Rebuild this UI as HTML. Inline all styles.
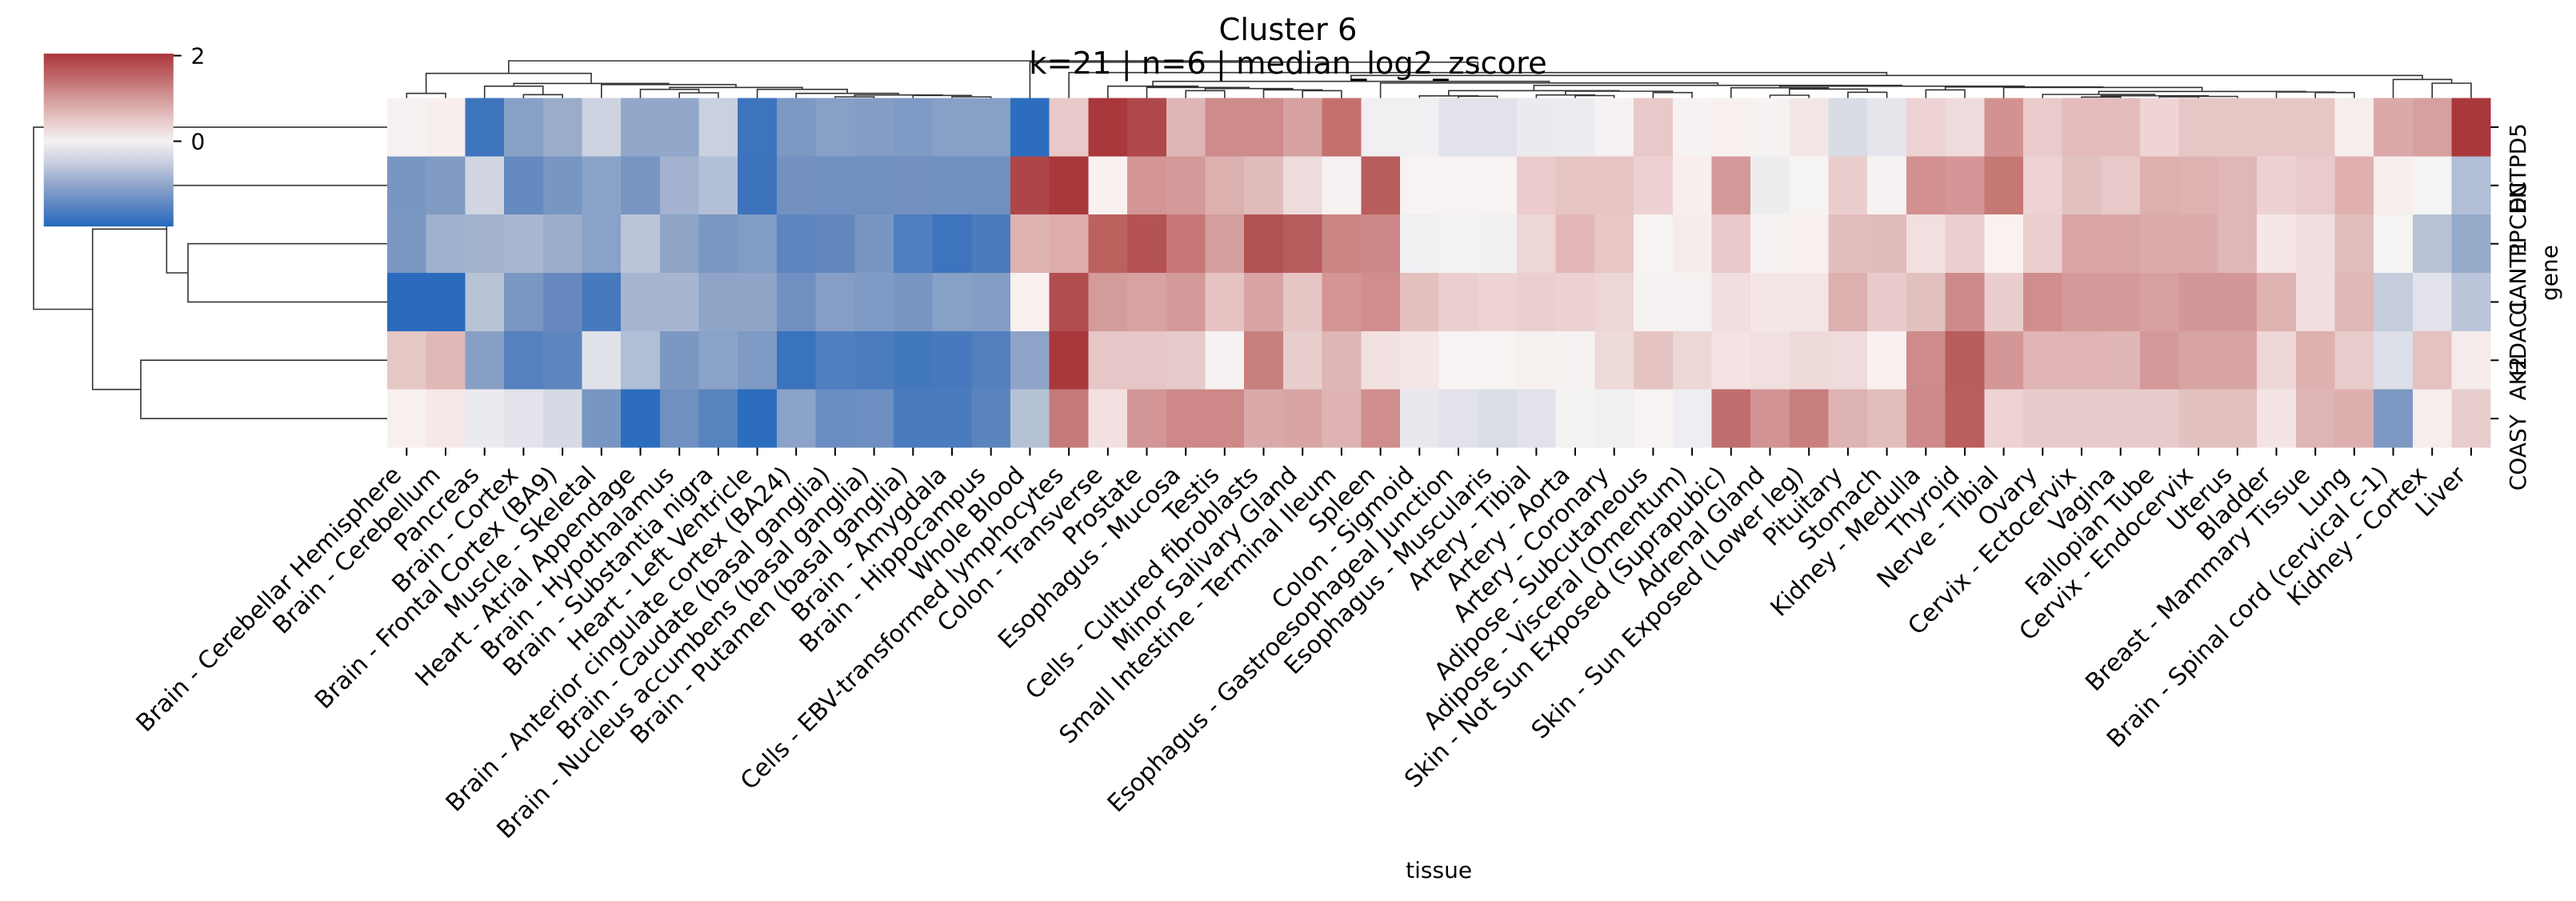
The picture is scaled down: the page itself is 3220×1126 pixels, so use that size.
<!DOCTYPE html>
<html><head><meta charset="utf-8"><style>
html,body{margin:0;padding:0;background:#fff;width:3220px;height:1126px;overflow:hidden}
svg{display:block}
text{font-family:"DejaVu Sans","Liberation Sans",sans-serif;fill:#000}
.xl{font-size:30px}
.yl{font-size:28px}
</style></head><body>
<svg width="3220" height="1126" viewBox="0 0 3220 1126" xmlns="http://www.w3.org/2000/svg">
<defs>
<linearGradient id="cb" x1="0" y1="0" x2="0" y2="1">
<stop offset="0" stop-color="#A9373B"/>
<stop offset="0.13" stop-color="#BF6668"/>
<stop offset="0.26" stop-color="#D49A9A"/>
<stop offset="0.39" stop-color="#E8C9C9"/>
<stop offset="0.507" stop-color="#F4F1F1"/>
<stop offset="0.63" stop-color="#C9CFE0"/>
<stop offset="0.76" stop-color="#8FA6CA"/>
<stop offset="0.88" stop-color="#5B85C3"/>
<stop offset="1" stop-color="#2369BD"/>
</linearGradient>
</defs>
<rect width="3220" height="1126" fill="#fff"/>

<!-- heatmap -->
<g shape-rendering="crispEdges">
<g transform="translate(0,122.5)">
<rect x="484.0" width="49.2" height="73.3" fill="#F7F2F2"/><rect x="532.7" width="49.2" height="73.3" fill="#F8EEEE"/><rect x="581.4" width="49.2" height="73.3" fill="#3E74BD"/><rect x="630.1" width="49.2" height="73.3" fill="#87A0C6"/><rect x="678.8" width="49.2" height="73.3" fill="#9AACCA"/><rect x="727.5" width="49.2" height="73.3" fill="#CCD2DF"/><rect x="776.1" width="49.2" height="73.3" fill="#92A7C9"/><rect x="824.8" width="49.2" height="73.3" fill="#92A7C9"/><rect x="873.5" width="49.2" height="73.3" fill="#C9D0DE"/><rect x="922.2" width="49.2" height="73.3" fill="#3E74BD"/><rect x="970.9" width="49.2" height="73.3" fill="#7C99C4"/><rect x="1019.6" width="49.2" height="73.3" fill="#86A0C6"/><rect x="1068.3" width="49.2" height="73.3" fill="#839DC5"/><rect x="1117.0" width="49.2" height="73.3" fill="#7F9AC4"/><rect x="1165.7" width="49.2" height="73.3" fill="#87A0C6"/><rect x="1214.4" width="49.2" height="73.3" fill="#87A0C6"/><rect x="1263.0" width="49.2" height="73.3" fill="#2C6DBD"/><rect x="1311.7" width="49.2" height="73.3" fill="#E8C8C8"/><rect x="1360.4" width="49.2" height="73.3" fill="#A9373B"/><rect x="1409.1" width="49.2" height="73.3" fill="#AF484A"/><rect x="1457.8" width="49.2" height="73.3" fill="#DEB6B6"/><rect x="1506.5" width="49.2" height="73.3" fill="#CD8B8B"/><rect x="1555.2" width="49.2" height="73.3" fill="#CF8A8A"/><rect x="1603.9" width="49.2" height="73.3" fill="#D6A1A1"/><rect x="1652.6" width="49.2" height="73.3" fill="#C4706F"/><rect x="1701.3" width="49.2" height="73.3" fill="#F1EFF2"/><rect x="1749.9" width="49.2" height="73.3" fill="#F1EFF2"/><rect x="1798.6" width="49.2" height="73.3" fill="#E2E2EA"/><rect x="1847.3" width="49.2" height="73.3" fill="#E2E2EA"/><rect x="1896.0" width="49.2" height="73.3" fill="#EBEAEF"/><rect x="1944.7" width="49.2" height="73.3" fill="#ECEBEF"/><rect x="1993.4" width="49.2" height="73.3" fill="#F5F2F1"/><rect x="2042.1" width="49.2" height="73.3" fill="#E8C8C8"/><rect x="2090.8" width="49.2" height="73.3" fill="#F6F2F1"/><rect x="2139.5" width="49.2" height="73.3" fill="#F8F0EF"/><rect x="2188.2" width="49.2" height="73.3" fill="#F6F2F1"/><rect x="2236.8" width="49.2" height="73.3" fill="#F4E6E6"/><rect x="2285.5" width="49.2" height="73.3" fill="#D9DCE5"/><rect x="2334.2" width="49.2" height="73.3" fill="#E6E5EC"/><rect x="2382.9" width="49.2" height="73.3" fill="#EDD3D3"/><rect x="2431.6" width="49.2" height="73.3" fill="#EFDBDB"/><rect x="2480.3" width="49.2" height="73.3" fill="#D39292"/><rect x="2529.0" width="49.2" height="73.3" fill="#E9CBCB"/><rect x="2577.7" width="49.2" height="73.3" fill="#E4BCBC"/><rect x="2626.4" width="49.2" height="73.3" fill="#E4BCBC"/><rect x="2675.1" width="49.2" height="73.3" fill="#EED4D5"/><rect x="2723.7" width="49.2" height="73.3" fill="#E7C6C6"/><rect x="2772.4" width="49.2" height="73.3" fill="#E7C6C6"/><rect x="2821.1" width="49.2" height="73.3" fill="#E7C6C6"/><rect x="2869.8" width="49.2" height="73.3" fill="#E7C6C6"/><rect x="2918.5" width="49.2" height="73.3" fill="#F6EEED"/><rect x="2967.2" width="49.2" height="73.3" fill="#DBA9A9"/><rect x="3015.9" width="49.2" height="73.3" fill="#D6A09F"/><rect x="3064.6" width="48.7" height="73.3" fill="#A9383C"/>
</g>
<g transform="translate(0,195.3)">
<rect x="484.0" width="49.2" height="73.3" fill="#7896C2"/><rect x="532.7" width="49.2" height="73.3" fill="#819BC4"/><rect x="581.4" width="49.2" height="73.3" fill="#D0D5E1"/><rect x="630.1" width="49.2" height="73.3" fill="#648ABF"/><rect x="678.8" width="49.2" height="73.3" fill="#7896C2"/><rect x="727.5" width="49.2" height="73.3" fill="#8AA3C8"/><rect x="776.1" width="49.2" height="73.3" fill="#7896C2"/><rect x="824.8" width="49.2" height="73.3" fill="#A2B2CF"/><rect x="873.5" width="49.2" height="73.3" fill="#B2BFD6"/><rect x="922.2" width="49.2" height="73.3" fill="#3D73BD"/><rect x="970.9" width="49.2" height="73.3" fill="#7291C0"/><rect x="1019.6" width="49.2" height="73.3" fill="#6F90C0"/><rect x="1068.3" width="49.2" height="73.3" fill="#6F90C0"/><rect x="1117.0" width="49.2" height="73.3" fill="#7291C0"/><rect x="1165.7" width="49.2" height="73.3" fill="#6F90C0"/><rect x="1214.4" width="49.2" height="73.3" fill="#6F90C0"/><rect x="1263.0" width="49.2" height="73.3" fill="#AE4548"/><rect x="1311.7" width="49.2" height="73.3" fill="#A9383C"/><rect x="1360.4" width="49.2" height="73.3" fill="#F8F1F0"/><rect x="1409.1" width="49.2" height="73.3" fill="#D39695"/><rect x="1457.8" width="49.2" height="73.3" fill="#D49999"/><rect x="1506.5" width="49.2" height="73.3" fill="#DDB0B0"/><rect x="1555.2" width="49.2" height="73.3" fill="#E2BCBC"/><rect x="1603.9" width="49.2" height="73.3" fill="#EEDBDB"/><rect x="1652.6" width="49.2" height="73.3" fill="#F6F2F1"/><rect x="1701.3" width="49.2" height="73.3" fill="#B85C5C"/><rect x="1749.9" width="49.2" height="73.3" fill="#F6F3F2"/><rect x="1798.6" width="49.2" height="73.3" fill="#F6F3F2"/><rect x="1847.3" width="49.2" height="73.3" fill="#F6F3F2"/><rect x="1896.0" width="49.2" height="73.3" fill="#EBCBCB"/><rect x="1944.7" width="49.2" height="73.3" fill="#E7C4C4"/><rect x="1993.4" width="49.2" height="73.3" fill="#E7C4C4"/><rect x="2042.1" width="49.2" height="73.3" fill="#EED2D3"/><rect x="2090.8" width="49.2" height="73.3" fill="#F8EEED"/><rect x="2139.5" width="49.2" height="73.3" fill="#D49999"/><rect x="2188.2" width="49.2" height="73.3" fill="#EDEDF0"/><rect x="2236.8" width="49.2" height="73.3" fill="#F5F4F2"/><rect x="2285.5" width="49.2" height="73.3" fill="#EACECD"/><rect x="2334.2" width="49.2" height="73.3" fill="#F6F2F2"/><rect x="2382.9" width="49.2" height="73.3" fill="#D29090"/><rect x="2431.6" width="49.2" height="73.3" fill="#D49696"/><rect x="2480.3" width="49.2" height="73.3" fill="#C67875"/><rect x="2529.0" width="49.2" height="73.3" fill="#EDD3D3"/><rect x="2577.7" width="49.2" height="73.3" fill="#E4C1C1"/><rect x="2626.4" width="49.2" height="73.3" fill="#E7C9C9"/><rect x="2675.1" width="49.2" height="73.3" fill="#DDAFAF"/><rect x="2723.7" width="49.2" height="73.3" fill="#DFB2B2"/><rect x="2772.4" width="49.2" height="73.3" fill="#E0B7B7"/><rect x="2821.1" width="49.2" height="73.3" fill="#EDD2D2"/><rect x="2869.8" width="49.2" height="73.3" fill="#E9CBCB"/><rect x="2918.5" width="49.2" height="73.3" fill="#DFB0AF"/><rect x="2967.2" width="49.2" height="73.3" fill="#F8EEED"/><rect x="3015.9" width="49.2" height="73.3" fill="#F4F4F2"/><rect x="3064.6" width="48.7" height="73.3" fill="#B1BED6"/>
</g>
<g transform="translate(0,268.2)">
<rect x="484.0" width="49.2" height="73.3" fill="#7A97C2"/><rect x="532.7" width="49.2" height="73.3" fill="#A0B1CE"/><rect x="581.4" width="49.2" height="73.3" fill="#A3B2CD"/><rect x="630.1" width="49.2" height="73.3" fill="#AAB7D0"/><rect x="678.8" width="49.2" height="73.3" fill="#9CADCB"/><rect x="727.5" width="49.2" height="73.3" fill="#8AA2C7"/><rect x="776.1" width="49.2" height="73.3" fill="#BBC4D9"/><rect x="824.8" width="49.2" height="73.3" fill="#8EA5C8"/><rect x="873.5" width="49.2" height="73.3" fill="#7A97C2"/><rect x="922.2" width="49.2" height="73.3" fill="#819CC5"/><rect x="970.9" width="49.2" height="73.3" fill="#5E86BE"/><rect x="1019.6" width="49.2" height="73.3" fill="#6388BF"/><rect x="1068.3" width="49.2" height="73.3" fill="#7896C2"/><rect x="1117.0" width="49.2" height="73.3" fill="#4F7FBE"/><rect x="1165.7" width="49.2" height="73.3" fill="#3D74BD"/><rect x="1214.4" width="49.2" height="73.3" fill="#4A7CBD"/><rect x="1263.0" width="49.2" height="73.3" fill="#DEB2B1"/><rect x="1311.7" width="49.2" height="73.3" fill="#DDACAB"/><rect x="1360.4" width="49.2" height="73.3" fill="#BB615E"/><rect x="1409.1" width="49.2" height="73.3" fill="#B55253"/><rect x="1457.8" width="49.2" height="73.3" fill="#C67775"/><rect x="1506.5" width="49.2" height="73.3" fill="#D39F9E"/><rect x="1555.2" width="49.2" height="73.3" fill="#B35253"/><rect x="1603.9" width="49.2" height="73.3" fill="#B75C5C"/><rect x="1652.6" width="49.2" height="73.3" fill="#CB8583"/><rect x="1701.3" width="49.2" height="73.3" fill="#CC8887"/><rect x="1749.9" width="49.2" height="73.3" fill="#F0EFF2"/><rect x="1798.6" width="49.2" height="73.3" fill="#F5F3F2"/><rect x="1847.3" width="49.2" height="73.3" fill="#F2F0F3"/><rect x="1896.0" width="49.2" height="73.3" fill="#EDD6D6"/><rect x="1944.7" width="49.2" height="73.3" fill="#E3B7B7"/><rect x="1993.4" width="49.2" height="73.3" fill="#E8C6C6"/><rect x="2042.1" width="49.2" height="73.3" fill="#F6F3F2"/><rect x="2090.8" width="49.2" height="73.3" fill="#F6ECEB"/><rect x="2139.5" width="49.2" height="73.3" fill="#E8C8C8"/><rect x="2188.2" width="49.2" height="73.3" fill="#F6F2F1"/><rect x="2236.8" width="49.2" height="73.3" fill="#F8F0EF"/><rect x="2285.5" width="49.2" height="73.3" fill="#E3BDBD"/><rect x="2334.2" width="49.2" height="73.3" fill="#E2BCBC"/><rect x="2382.9" width="49.2" height="73.3" fill="#F2DFDF"/><rect x="2431.6" width="49.2" height="73.3" fill="#EBCECE"/><rect x="2480.3" width="49.2" height="73.3" fill="#FAF2F1"/><rect x="2529.0" width="49.2" height="73.3" fill="#EBCECE"/><rect x="2577.7" width="49.2" height="73.3" fill="#DAA5A5"/><rect x="2626.4" width="49.2" height="73.3" fill="#DAA5A5"/><rect x="2675.1" width="49.2" height="73.3" fill="#DCACAC"/><rect x="2723.7" width="49.2" height="73.3" fill="#DCACAC"/><rect x="2772.4" width="49.2" height="73.3" fill="#E0B7B7"/><rect x="2821.1" width="49.2" height="73.3" fill="#F5E7E7"/><rect x="2869.8" width="49.2" height="73.3" fill="#F1DEDE"/><rect x="2918.5" width="49.2" height="73.3" fill="#E3BCBC"/><rect x="2967.2" width="49.2" height="73.3" fill="#F4F4F2"/><rect x="3015.9" width="49.2" height="73.3" fill="#BAC3D6"/><rect x="3064.6" width="48.7" height="73.3" fill="#96ABC9"/>
</g>
<g transform="translate(0,341.0)">
<rect x="484.0" width="49.2" height="73.3" fill="#2A6BBD"/><rect x="532.7" width="49.2" height="73.3" fill="#2A6BBD"/><rect x="581.4" width="49.2" height="73.3" fill="#B8C3D6"/><rect x="630.1" width="49.2" height="73.3" fill="#7A97C2"/><rect x="678.8" width="49.2" height="73.3" fill="#6889BF"/><rect x="727.5" width="49.2" height="73.3" fill="#4679BD"/><rect x="776.1" width="49.2" height="73.3" fill="#A7B5D0"/><rect x="824.8" width="49.2" height="73.3" fill="#A7B5D0"/><rect x="873.5" width="49.2" height="73.3" fill="#8FA5C7"/><rect x="922.2" width="49.2" height="73.3" fill="#8FA5C7"/><rect x="970.9" width="49.2" height="73.3" fill="#6F90C0"/><rect x="1019.6" width="49.2" height="73.3" fill="#869EC5"/><rect x="1068.3" width="49.2" height="73.3" fill="#7F9AC4"/><rect x="1117.0" width="49.2" height="73.3" fill="#7896C2"/><rect x="1165.7" width="49.2" height="73.3" fill="#87A0C6"/><rect x="1214.4" width="49.2" height="73.3" fill="#839DC5"/><rect x="1263.0" width="49.2" height="73.3" fill="#F9F1F0"/><rect x="1311.7" width="49.2" height="73.3" fill="#B04D4F"/><rect x="1360.4" width="49.2" height="73.3" fill="#D49B9B"/><rect x="1409.1" width="49.2" height="73.3" fill="#D6A2A2"/><rect x="1457.8" width="49.2" height="73.3" fill="#D49999"/><rect x="1506.5" width="49.2" height="73.3" fill="#E5C3C3"/><rect x="1555.2" width="49.2" height="73.3" fill="#D8A4A4"/><rect x="1603.9" width="49.2" height="73.3" fill="#E6C6C5"/><rect x="1652.6" width="49.2" height="73.3" fill="#D49594"/><rect x="1701.3" width="49.2" height="73.3" fill="#D18D8D"/><rect x="1749.9" width="49.2" height="73.3" fill="#E4C0BF"/><rect x="1798.6" width="49.2" height="73.3" fill="#EBCFCF"/><rect x="1847.3" width="49.2" height="73.3" fill="#EDD3D3"/><rect x="1896.0" width="49.2" height="73.3" fill="#EBCFCF"/><rect x="1944.7" width="49.2" height="73.3" fill="#ECD2D2"/><rect x="1993.4" width="49.2" height="73.3" fill="#EDD6D6"/><rect x="2042.1" width="49.2" height="73.3" fill="#F5F2F1"/><rect x="2090.8" width="49.2" height="73.3" fill="#F5F1F0"/><rect x="2139.5" width="49.2" height="73.3" fill="#F1DEDE"/><rect x="2188.2" width="49.2" height="73.3" fill="#F4E6E6"/><rect x="2236.8" width="49.2" height="73.3" fill="#F4E6E6"/><rect x="2285.5" width="49.2" height="73.3" fill="#DDB0B0"/><rect x="2334.2" width="49.2" height="73.3" fill="#E8CACA"/><rect x="2382.9" width="49.2" height="73.3" fill="#E3C0C0"/><rect x="2431.6" width="49.2" height="73.3" fill="#CE8A8A"/><rect x="2480.3" width="49.2" height="73.3" fill="#EACECE"/><rect x="2529.0" width="49.2" height="73.3" fill="#D08D8D"/><rect x="2577.7" width="49.2" height="73.3" fill="#D49999"/><rect x="2626.4" width="49.2" height="73.3" fill="#D49999"/><rect x="2675.1" width="49.2" height="73.3" fill="#D7A1A1"/><rect x="2723.7" width="49.2" height="73.3" fill="#D49797"/><rect x="2772.4" width="49.2" height="73.3" fill="#D49797"/><rect x="2821.1" width="49.2" height="73.3" fill="#DFB2B2"/><rect x="2869.8" width="49.2" height="73.3" fill="#F1DEDE"/><rect x="2918.5" width="49.2" height="73.3" fill="#E0B7B7"/><rect x="2967.2" width="49.2" height="73.3" fill="#C6CDDC"/><rect x="3015.9" width="49.2" height="73.3" fill="#E2E2EA"/><rect x="3064.6" width="48.7" height="73.3" fill="#BBC5D9"/>
</g>
<g transform="translate(0,413.8)">
<rect x="484.0" width="49.2" height="73.3" fill="#E5C7C6"/><rect x="532.7" width="49.2" height="73.3" fill="#E0B8B7"/><rect x="581.4" width="49.2" height="73.3" fill="#889FC5"/><rect x="630.1" width="49.2" height="73.3" fill="#5582BE"/><rect x="678.8" width="49.2" height="73.3" fill="#5E85BE"/><rect x="727.5" width="49.2" height="73.3" fill="#E0E2EA"/><rect x="776.1" width="49.2" height="73.3" fill="#B0BED6"/><rect x="824.8" width="49.2" height="73.3" fill="#7B98C3"/><rect x="873.5" width="49.2" height="73.3" fill="#8BA3C8"/><rect x="922.2" width="49.2" height="73.3" fill="#7F9AC4"/><rect x="970.9" width="49.2" height="73.3" fill="#3972BD"/><rect x="1019.6" width="49.2" height="73.3" fill="#4F7FBE"/><rect x="1068.3" width="49.2" height="73.3" fill="#4A7CBE"/><rect x="1117.0" width="49.2" height="73.3" fill="#4279BD"/><rect x="1165.7" width="49.2" height="73.3" fill="#4679BD"/><rect x="1214.4" width="49.2" height="73.3" fill="#5280BE"/><rect x="1263.0" width="49.2" height="73.3" fill="#8EA3C8"/><rect x="1311.7" width="49.2" height="73.3" fill="#A9383C"/><rect x="1360.4" width="49.2" height="73.3" fill="#E6C6C6"/><rect x="1409.1" width="49.2" height="73.3" fill="#E6C6C6"/><rect x="1457.8" width="49.2" height="73.3" fill="#E7CACA"/><rect x="1506.5" width="49.2" height="73.3" fill="#F6F2F1"/><rect x="1555.2" width="49.2" height="73.3" fill="#C87F7E"/><rect x="1603.9" width="49.2" height="73.3" fill="#E8CDCD"/><rect x="1652.6" width="49.2" height="73.3" fill="#DFB5B5"/><rect x="1701.3" width="49.2" height="73.3" fill="#F1E0E0"/><rect x="1749.9" width="49.2" height="73.3" fill="#F4E6E6"/><rect x="1798.6" width="49.2" height="73.3" fill="#F6F3F2"/><rect x="1847.3" width="49.2" height="73.3" fill="#F6F3F2"/><rect x="1896.0" width="49.2" height="73.3" fill="#F6F0EF"/><rect x="1944.7" width="49.2" height="73.3" fill="#F6F2F1"/><rect x="1993.4" width="49.2" height="73.3" fill="#EFDADA"/><rect x="2042.1" width="49.2" height="73.3" fill="#E5C3C3"/><rect x="2090.8" width="49.2" height="73.3" fill="#EDD6D6"/><rect x="2139.5" width="49.2" height="73.3" fill="#F3E3E3"/><rect x="2188.2" width="49.2" height="73.3" fill="#F1E0E0"/><rect x="2236.8" width="49.2" height="73.3" fill="#EFDADA"/><rect x="2285.5" width="49.2" height="73.3" fill="#EFDBDB"/><rect x="2334.2" width="49.2" height="73.3" fill="#F9F1F0"/><rect x="2382.9" width="49.2" height="73.3" fill="#CE8B8B"/><rect x="2431.6" width="49.2" height="73.3" fill="#B85C5C"/><rect x="2480.3" width="49.2" height="73.3" fill="#D49797"/><rect x="2529.0" width="49.2" height="73.3" fill="#E0B4B4"/><rect x="2577.7" width="49.2" height="73.3" fill="#E0B4B4"/><rect x="2626.4" width="49.2" height="73.3" fill="#DFB5B5"/><rect x="2675.1" width="49.2" height="73.3" fill="#D49999"/><rect x="2723.7" width="49.2" height="73.3" fill="#D7A3A3"/><rect x="2772.4" width="49.2" height="73.3" fill="#D7A3A3"/><rect x="2821.1" width="49.2" height="73.3" fill="#EDD6D6"/><rect x="2869.8" width="49.2" height="73.3" fill="#DEB0B0"/><rect x="2918.5" width="49.2" height="73.3" fill="#E8CCCC"/><rect x="2967.2" width="49.2" height="73.3" fill="#DDE0E8"/><rect x="3015.9" width="49.2" height="73.3" fill="#E5C1C1"/><rect x="3064.6" width="48.7" height="73.3" fill="#F5EBEB"/>
</g>
<g transform="translate(0,486.7)">
<rect x="484.0" width="49.2" height="72.8" fill="#F8F0EF"/><rect x="532.7" width="49.2" height="72.8" fill="#F6E8E7"/><rect x="581.4" width="49.2" height="72.8" fill="#EBEAEF"/><rect x="630.1" width="49.2" height="72.8" fill="#E2E3EB"/><rect x="678.8" width="49.2" height="72.8" fill="#D6DAE4"/><rect x="727.5" width="49.2" height="72.8" fill="#7896C2"/><rect x="776.1" width="49.2" height="72.8" fill="#2C6DBD"/><rect x="824.8" width="49.2" height="72.8" fill="#6F90C0"/><rect x="873.5" width="49.2" height="72.8" fill="#5783BE"/><rect x="922.2" width="49.2" height="72.8" fill="#2C6DBD"/><rect x="970.9" width="49.2" height="72.8" fill="#8BA3C8"/><rect x="1019.6" width="49.2" height="72.8" fill="#6A8DC1"/><rect x="1068.3" width="49.2" height="72.8" fill="#6C8EC1"/><rect x="1117.0" width="49.2" height="72.8" fill="#4A7CBD"/><rect x="1165.7" width="49.2" height="72.8" fill="#4A7CBD"/><rect x="1214.4" width="49.2" height="72.8" fill="#5B84BE"/><rect x="1263.0" width="49.2" height="72.8" fill="#B5C2D6"/><rect x="1311.7" width="49.2" height="72.8" fill="#C77A7A"/><rect x="1360.4" width="49.2" height="72.8" fill="#F3E1E1"/><rect x="1409.1" width="49.2" height="72.8" fill="#D39696"/><rect x="1457.8" width="49.2" height="72.8" fill="#CD8887"/><rect x="1506.5" width="49.2" height="72.8" fill="#CD8887"/><rect x="1555.2" width="49.2" height="72.8" fill="#DAAAAA"/><rect x="1603.9" width="49.2" height="72.8" fill="#D9A4A4"/><rect x="1652.6" width="49.2" height="72.8" fill="#DFB3B3"/><rect x="1701.3" width="49.2" height="72.8" fill="#D08D8D"/><rect x="1749.9" width="49.2" height="72.8" fill="#E8E8EE"/><rect x="1798.6" width="49.2" height="72.8" fill="#E2E2EA"/><rect x="1847.3" width="49.2" height="72.8" fill="#DADDE6"/><rect x="1896.0" width="49.2" height="72.8" fill="#E2E2EA"/><rect x="1944.7" width="49.2" height="72.8" fill="#F4F2F2"/><rect x="1993.4" width="49.2" height="72.8" fill="#F0EFF2"/><rect x="2042.1" width="49.2" height="72.8" fill="#F6F3F2"/><rect x="2090.8" width="49.2" height="72.8" fill="#EEEDF1"/><rect x="2139.5" width="49.2" height="72.8" fill="#C06E6E"/><rect x="2188.2" width="49.2" height="72.8" fill="#D29393"/><rect x="2236.8" width="49.2" height="72.8" fill="#C87F7E"/><rect x="2285.5" width="49.2" height="72.8" fill="#DEB3B3"/><rect x="2334.2" width="49.2" height="72.8" fill="#E2BDBD"/><rect x="2382.9" width="49.2" height="72.8" fill="#CE8A8A"/><rect x="2431.6" width="49.2" height="72.8" fill="#BA5E5E"/><rect x="2480.3" width="49.2" height="72.8" fill="#EDD3D3"/><rect x="2529.0" width="49.2" height="72.8" fill="#E7CBCB"/><rect x="2577.7" width="49.2" height="72.8" fill="#E7CBCB"/><rect x="2626.4" width="49.2" height="72.8" fill="#E7CBCB"/><rect x="2675.1" width="49.2" height="72.8" fill="#E7CBCB"/><rect x="2723.7" width="49.2" height="72.8" fill="#E3C1C1"/><rect x="2772.4" width="49.2" height="72.8" fill="#E3C1C1"/><rect x="2821.1" width="49.2" height="72.8" fill="#F4E4E4"/><rect x="2869.8" width="49.2" height="72.8" fill="#DFB4B4"/><rect x="2918.5" width="49.2" height="72.8" fill="#DDAEAE"/><rect x="2967.2" width="49.2" height="72.8" fill="#7C98C3"/><rect x="3015.9" width="49.2" height="72.8" fill="#F6EDED"/><rect x="3064.6" width="48.7" height="72.8" fill="#E8CDCD"/>
</g>
</g>

<!-- column dendrogram -->
<path fill="none" stroke="#333" stroke-width="1.6" d="
M508.3 122.5V116.7H557.0V122.5
M654.4 122.5V118.3H703.1V122.5
M605.7 122.5V107.7H678.75V118.3
M849.2 122.5V116H897.9V122.5
M800.5 122.5V111.7H873.55V116
M1190.0 122.5V121H1238.7V122.5
M1141.3 122.5V119.3H1214.35V121
M1043.9 122.5V121H1092.6V122.5
M1068.25 121V118.7H1177.8V119.3
M995.2 122.5V116.7H1123.0V118.7
M946.6 122.5V111.7H1059.1V116.7
M837.0 111.7V109.3H1002.9V111.7
M751.8 122.5V105.7H919.95V109.3
M642.2 107.7V104.3H835.9V105.7
M532.65 116.7V91.7H739.05V104.3
M1628.2 122.5V113.3H1676.9V122.5
M1579.5 122.5V112.3H1652.55V113.3
M1482.2 122.5V113.3H1530.8V122.5
M1506.5 113.3V110.7H1616.0V112.3
M1433.5 122.5V109.3H1561.25V110.7
M1384.8 122.5V107.7H1497.4V109.3
M1823.0 122.5V120.3H1871.7V122.5
M1774.3 122.5V119.8H1847.35V120.3
M1969.0 122.5V119.5H2017.7V122.5
M1920.4 122.5V118.7H1993.35V119.5
M2066.4 122.5V115.7H2115.1V122.5
M1956.9 118.7V114H2090.75V115.7
M1810.8 119.8V113.3H2023.8V114
M2212.5 122.5V119H2261.2V122.5
M2309.9 122.5V115.3H2358.6V122.5
M2236.85 119V111.3H2334.25V115.3
M2163.8 122.5V109.7H2285.55V111.3
M2407.3 122.5V112.3H2456.0V122.5
M2602.0 122.5V121.3H2650.7V122.5
M2699.4 122.5V121H2748.1V122.5
M2723.75 121V120.5H2796.8V122.5
M2626.35 121.3V119.7H2760.3V120.5
M2553.3 122.5V118H2693.3V119.7
M2894.2 122.5V115.7H2942.8V122.5
M2845.5 122.5V115H2918.5V115.7
M2623.3 118V114.3H2882.0V115
M2504.6 122.5V109.3H2752.65V114.3
M2431.65 112.3V108.7H2628.6V109.3
M2224.7 109.7V107.7H2530.1V108.7
M1917.3 113.3V106.7H2377.4V107.7
M1725.6 122.5V103.7H2147.35V106.7
M1441.1 107.7V101.7H1936.5V103.7
M3040.2 122.5V104H3088.9V122.5
M2991.5 122.5V99.3H3064.55V104
M1688.8 101.7V94.3H3028.0V99.3
M1336.1 122.5V90.7H2358.4V94.3
M1287.4 122.5V77.7H1847.25V90.7
M635.85 91.7V76H1567.3V77.7"/>

<!-- row dendrogram -->
<path fill="none" stroke="#333" stroke-width="1.6" d="
M484 304.6H235V377.4H484
M484 231.7H208.3V341H235
M484 450.2H176V523.1H484
M208.3 286.35H115.7V486.65H176
M484 158.9H42V386.5H115.7"/>

<!-- colorbar -->
<rect x="54.7" y="67" width="162.1" height="216" fill="url(#cb)"/>
<path stroke="#000" stroke-width="2" d="M216.8 69.5h10M216.8 176.5h10"/>
<text class="yl" x="238.5" y="79.5">2</text>
<text class="yl" x="238.5" y="186.5">0</text>

<!-- x ticks -->
<path stroke="#000" stroke-width="2" d="M508.3 559.5v10M557.0 559.5v10M605.7 559.5v10M654.4 559.5v10M703.1 559.5v10M751.8 559.5v10M800.5 559.5v10M849.2 559.5v10M897.9 559.5v10M946.6 559.5v10M995.2 559.5v10M1043.9 559.5v10M1092.6 559.5v10M1141.3 559.5v10M1190.0 559.5v10M1238.7 559.5v10M1287.4 559.5v10M1336.1 559.5v10M1384.8 559.5v10M1433.5 559.5v10M1482.2 559.5v10M1530.8 559.5v10M1579.5 559.5v10M1628.2 559.5v10M1676.9 559.5v10M1725.6 559.5v10M1774.3 559.5v10M1823.0 559.5v10M1871.7 559.5v10M1920.4 559.5v10M1969.0 559.5v10M2017.7 559.5v10M2066.4 559.5v10M2115.1 559.5v10M2163.8 559.5v10M2212.5 559.5v10M2261.2 559.5v10M2309.9 559.5v10M2358.6 559.5v10M2407.3 559.5v10M2456.0 559.5v10M2504.6 559.5v10M2553.3 559.5v10M2602.0 559.5v10M2650.7 559.5v10M2699.4 559.5v10M2748.1 559.5v10M2796.8 559.5v10M2845.5 559.5v10M2894.2 559.5v10M2942.8 559.5v10M2991.5 559.5v10M3040.2 559.5v10M3088.9 559.5v10"/>

<!-- x tick labels -->
<g class="xl" text-anchor="end">
<text transform="translate(503.3,595.5) rotate(-45)">Brain - Cerebellar Hemisphere</text>
<text transform="translate(552.0,595.5) rotate(-45)">Brain - Cerebellum</text>
<text transform="translate(600.7,595.5) rotate(-45)">Pancreas</text>
<text transform="translate(649.4,595.5) rotate(-45)">Brain - Cortex</text>
<text transform="translate(698.1,595.5) rotate(-45)">Brain - Frontal Cortex (BA9)</text>
<text transform="translate(746.8,595.5) rotate(-45)">Muscle - Skeletal</text>
<text transform="translate(795.5,595.5) rotate(-45)">Heart - Atrial Appendage</text>
<text transform="translate(844.2,595.5) rotate(-45)">Brain - Hypothalamus</text>
<text transform="translate(892.9,595.5) rotate(-45)">Brain - Substantia nigra</text>
<text transform="translate(941.6,595.5) rotate(-45)">Heart - Left Ventricle</text>
<text transform="translate(990.2,595.5) rotate(-45)">Brain - Anterior cingulate cortex (BA24)</text>
<text transform="translate(1038.9,595.5) rotate(-45)">Brain - Caudate (basal ganglia)</text>
<text transform="translate(1087.6,595.5) rotate(-45)">Brain - Nucleus accumbens (basal ganglia)</text>
<text transform="translate(1136.3,595.5) rotate(-45)">Brain - Putamen (basal ganglia)</text>
<text transform="translate(1185.0,595.5) rotate(-45)">Brain - Amygdala</text>
<text transform="translate(1233.7,595.5) rotate(-45)">Brain - Hippocampus</text>
<text transform="translate(1282.4,595.5) rotate(-45)">Whole Blood</text>
<text transform="translate(1331.1,595.5) rotate(-45)">Cells - EBV-transformed lymphocytes</text>
<text transform="translate(1379.8,595.5) rotate(-45)">Colon - Transverse</text>
<text transform="translate(1428.5,595.5) rotate(-45)">Prostate</text>
<text transform="translate(1477.2,595.5) rotate(-45)">Esophagus - Mucosa</text>
<text transform="translate(1525.8,595.5) rotate(-45)">Testis</text>
<text transform="translate(1574.5,595.5) rotate(-45)">Cells - Cultured fibroblasts</text>
<text transform="translate(1623.2,595.5) rotate(-45)">Minor Salivary Gland</text>
<text transform="translate(1671.9,595.5) rotate(-45)">Small Intestine - Terminal Ileum</text>
<text transform="translate(1720.6,595.5) rotate(-45)">Spleen</text>
<text transform="translate(1769.3,595.5) rotate(-45)">Colon - Sigmoid</text>
<text transform="translate(1818.0,595.5) rotate(-45)">Esophagus - Gastroesophageal Junction</text>
<text transform="translate(1866.7,595.5) rotate(-45)">Esophagus - Muscularis</text>
<text transform="translate(1915.4,595.5) rotate(-45)">Artery - Tibial</text>
<text transform="translate(1964.0,595.5) rotate(-45)">Artery - Aorta</text>
<text transform="translate(2012.7,595.5) rotate(-45)">Artery - Coronary</text>
<text transform="translate(2061.4,595.5) rotate(-45)">Adipose - Subcutaneous</text>
<text transform="translate(2110.1,595.5) rotate(-45)">Adipose - Visceral (Omentum)</text>
<text transform="translate(2158.8,595.5) rotate(-45)">Skin - Not Sun Exposed (Suprapubic)</text>
<text transform="translate(2207.5,595.5) rotate(-45)">Adrenal Gland</text>
<text transform="translate(2256.2,595.5) rotate(-45)">Skin - Sun Exposed (Lower leg)</text>
<text transform="translate(2304.9,595.5) rotate(-45)">Pituitary</text>
<text transform="translate(2353.6,595.5) rotate(-45)">Stomach</text>
<text transform="translate(2402.3,595.5) rotate(-45)">Kidney - Medulla</text>
<text transform="translate(2451.0,595.5) rotate(-45)">Thyroid</text>
<text transform="translate(2499.6,595.5) rotate(-45)">Nerve - Tibial</text>
<text transform="translate(2548.3,595.5) rotate(-45)">Ovary</text>
<text transform="translate(2597.0,595.5) rotate(-45)">Cervix - Ectocervix</text>
<text transform="translate(2645.7,595.5) rotate(-45)">Vagina</text>
<text transform="translate(2694.4,595.5) rotate(-45)">Fallopian Tube</text>
<text transform="translate(2743.1,595.5) rotate(-45)">Cervix - Endocervix</text>
<text transform="translate(2791.8,595.5) rotate(-45)">Uterus</text>
<text transform="translate(2840.5,595.5) rotate(-45)">Bladder</text>
<text transform="translate(2889.2,595.5) rotate(-45)">Breast - Mammary Tissue</text>
<text transform="translate(2937.8,595.5) rotate(-45)">Lung</text>
<text transform="translate(2986.5,595.5) rotate(-45)">Brain - Spinal cord (cervical c-1)</text>
<text transform="translate(3035.2,595.5) rotate(-45)">Kidney - Cortex</text>
<text transform="translate(3083.9,595.5) rotate(-45)">Liver</text>
</g>

<!-- y ticks & gene labels -->
<path stroke="#000" stroke-width="2" d="M3113.3 158.9h10M3113.3 231.7h10M3113.3 304.6h10M3113.3 377.4h10M3113.3 450.2h10M3113.3 523.1h10"/>
<g class="yl" text-anchor="end">
<text transform="translate(3157,154) rotate(-90)">ENTPD5</text>
<text transform="translate(3157,226.7) rotate(-90)">PPCDC</text>
<text transform="translate(3157,299.6) rotate(-90)">CANT1</text>
<text transform="translate(3157,372.4) rotate(-90)">HDAC1</text>
<text transform="translate(3157,445.2) rotate(-90)">AK2</text>
<text transform="translate(3157,518.1) rotate(-90)">COASY</text>
</g>
<text class="yl" text-anchor="middle" transform="translate(3196.3,341) rotate(-90)">gene</text>

<!-- x axis label -->
<text class="yl" text-anchor="middle" x="1798.6" y="1097">tissue</text>

<!-- title -->
<text text-anchor="middle" x="1610" y="50" style="font-size:38.4px">Cluster 6</text>
<text text-anchor="middle" x="1610" y="92" style="font-size:38.4px">k=21 | n=6 | median_log2_zscore</text>
</svg>
</body></html>
